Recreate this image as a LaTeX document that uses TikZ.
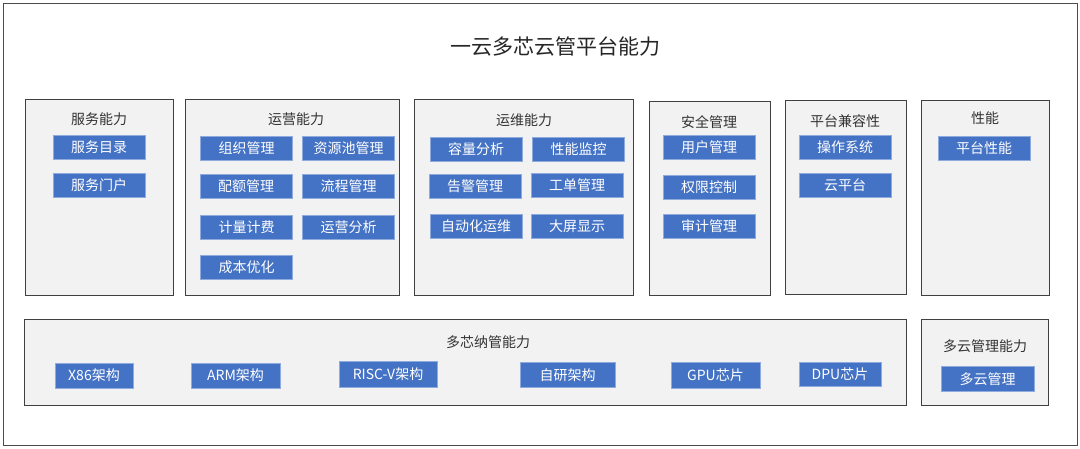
\documentclass[tikz,border=0pt]{standalone}
\usepackage{fontspec}
\setmainfont{Noto Sans CJK SC}
\usetikzlibrary{positioning}
\definecolor{itemblue}{HTML}{4472C4}
\definecolor{groupgray}{HTML}{F2F2F2}
\definecolor{textgray}{HTML}{333333}

\begin{document}
\begin{tikzpicture}[
				x=1pt, y=-1pt,
				frame/.style={draw=black!70, line width=0.8pt},
				group/.style={draw=black!75, fill=groupgray, line width=1pt, inner sep=0pt},
				item/.style={draw=itemblue!60!white, line width=0.6pt, fill=itemblue, text=white, font=\fontsize{14}{14}\selectfont, minimum width=92pt, minimum height=24pt, inner sep=0pt},
				grouptitle/.style={text=textgray, font=\fontsize{14}{14}\selectfont, inner sep=0pt}
			]
				\useasboundingbox (0,0) rectangle (1080,448);
				% 外框和标题
				\draw[frame] (3,3) rectangle (1077,445);
				\node[text=black!85, font=\fontsize{21}{21}\selectfont] (title) at (555,47) {一云多芯云管平台能力};
				% 上层能力框
				\node[group, minimum width=148pt, minimum height=196pt] (fuwu)    at (99,197)    {};
				\node[group, minimum width=214pt, minimum height=196pt] (yunying) at (292,197)   {};
				\node[group, minimum width=219pt, minimum height=196pt] (yunwei)  at (523.5,197) {};
				\node[group, minimum width=121pt, minimum height=194pt] (anquan)  at (709.5,198) {};
				\node[group, minimum width=121pt, minimum height=194pt] (jianrong) at (845.5,197) {};
				\node[group, minimum width=128pt, minimum height=195pt] (xingneng) at (985,197.5) {};
				% 下层能力框
				\node[group, minimum width=882pt, minimum height=86pt] (duoxin) at (465,362)    {};
				\node[group, minimum width=127pt, minimum height=86pt] (duoyun) at (984.5,362)  {};
				% 框标题
				\node[grouptitle] (fuwu-title)     at (99,119)  {服务能力};
				\node[grouptitle] (yunying-title)  at (296,119) {运营能力};
				\node[grouptitle] (yunwei-title)   at (524,120) {运维能力};
				\node[grouptitle] (anquan-title)   at (709,122) {安全管理};
				\node[grouptitle] (jianrong-title) at (845,121) {平台兼容性};
				\node[grouptitle] (xingneng-title) at (985,118) {性能};
				\node[grouptitle] (duoxin-title)   at (488,342) {多芯纳管能力};
				\node[grouptitle] (duoyun-title)   at (985,346) {多云管理能力};
				% 服务能力
				\node[item] (fuwu-mulu)   at (99,147) {服务目录};
				\node[item] (fuwu-menhu)  at (99,185) {服务门户};
				% 运营能力
				\node[item] (zuzhi)   at (246.5,148) {组织管理};
				\node[item] (ziyuan)  at (348.5,148) {资源池管理};
				\node[item] (peie)    at (246,186)   {配额管理};
				\node[item] (liucheng) at (348.5,186) {流程管理};
				\node[item] (jiliang) at (246.5,227) {计量计费};
				\node[item] (yyfenxi) at (348.5,227) {运营分析};
				\node[item] (chengben) at (246.5,267) {成本优化};
				% 运维能力
				\node[item] (rongliang) at (476,149)   {容量分析};
				\node[item] (jiankong)  at (578.5,149) {性能监控};
				\node[item] (gaojing)   at (475,186)   {告警管理};
				\node[item] (gongdan)   at (577,185)   {工单管理};
				\node[item] (zidong)    at (476,226)   {自动化运维};
				\node[item] (daping)    at (577,226)   {大屏显示};
				% 安全管理
				\node[item] (yonghu)  at (709,147) {用户管理};
				\node[item] (quanxian) at (709,187) {权限控制};
				\node[item] (shenji)  at (709,226) {审计管理};
				% 平台兼容性
				\node[item] (caozuo)  at (845,147) {操作系统};
				\node[item] (yunpt)   at (845,185) {云平台};
				% 性能
				\node[item] (ptxn)    at (984,148) {平台性能};
				% 多芯纳管能力
				\node[item, minimum width=78pt, minimum height=25pt] (x86)   at (94,375.5)  {X86架构};
				\node[item, minimum width=89pt, minimum height=25pt] (arm)   at (235.5,375.5) {ARM架构};
				\node[item, minimum width=98pt, minimum height=26pt] (riscv) at (388,374)   {RISC-V架构};
				\node[item, minimum width=95pt, minimum height=25pt] (ziyan) at (567.5,375) {自研架构};
				\node[item, minimum width=89pt, minimum height=26pt] (gpu)   at (715.5,375) {GPU芯片};
				\node[item, minimum width=82pt, minimum height=24pt] (dpu)   at (840,374)   {DPU芯片};
				% 多云管理能力
				\node[item, minimum width=93pt, minimum height=25pt] (duoyun-gl) at (987.5,379) {多云管理};
			\end{tikzpicture}
\end{document}
